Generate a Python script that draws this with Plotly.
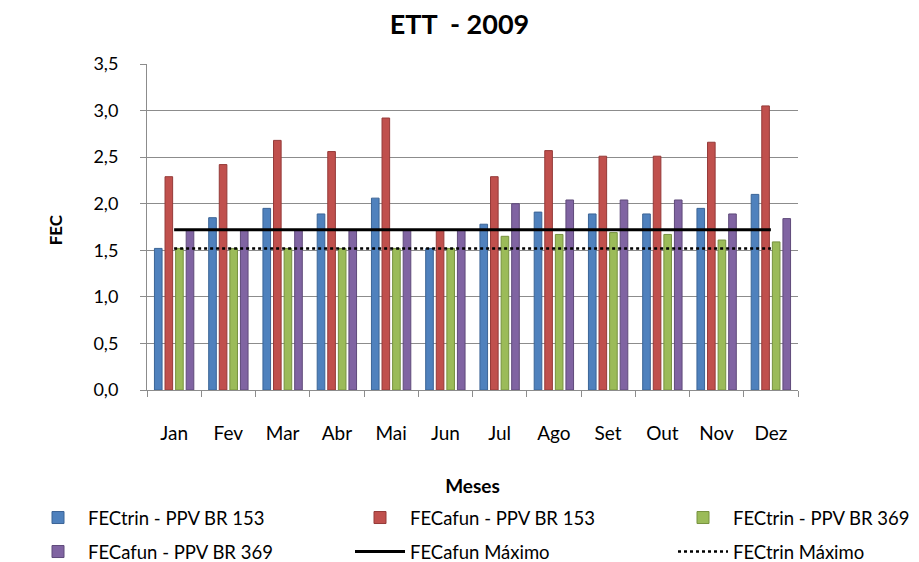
import plotly.graph_objects as go

meses = ["Jan", "Fev", "Mar", "Abr", "Mai", "Jun", "Jul", "Ago", "Set", "Out", "Nov", "Dez"]

fectrin_br153 = [1.52, 1.85, 1.95, 1.89, 2.06, 1.52, 1.78, 1.91, 1.89, 1.89, 1.95, 2.10]
fecafun_br153 = [2.29, 2.42, 2.68, 2.56, 2.92, 1.72, 2.29, 2.57, 2.51, 2.51, 2.66, 3.05]
fectrin_br369 = [1.52, 1.52, 1.52, 1.52, 1.52, 1.52, 1.65, 1.67, 1.69, 1.67, 1.61, 1.59]
fecafun_br369 = [1.72, 1.72, 1.72, 1.72, 1.72, 1.72, 2.00, 2.04, 2.04, 2.04, 1.89, 1.84]
fecafun_max = [1.72] * 12
fectrin_max = [1.52] * 12

FONT = "Lato"
W, H = 919, 562
ML, MR, MT, MB = 147, 121, 64, 172
PW = W - ML - MR

fig = go.Figure()
bar_series = [
    ("FECtrin - PPV BR 153", fectrin_br153, "#4F81BD", "#3B6496", "legend"),
    ("FECafun - PPV BR 153", fecafun_br153, "#C0504D", "#953A38", "legend2"),
    ("FECtrin - PPV BR 369", fectrin_br369, "#9BBB59", "#77923F", "legend3"),
    ("FECafun - PPV BR 369", fecafun_br369, "#8064A2", "#5F4A7A", "legend4"),
]
for name, vals, col, lcol, lg in bar_series:
    fig.add_trace(go.Bar(
        x=meses, y=vals, name=name,
        marker=dict(color=col, line=dict(color=lcol, width=1)),
        legend=lg,
    ))

fig.add_trace(go.Scatter(
    x=meses, y=fecafun_max, name="FECafun Máximo", mode="lines",
    line=dict(color="black", width=3), legend="legend5",
))
fig.add_trace(go.Scatter(
    x=meses, y=fectrin_max, name="FECtrin Máximo", mode="lines",
    line=dict(color="black", width=2.5, dash="dot"), legend="legend6",
))

col_x = [28, 350, 673]
row_y = [518, 552]
def leg(ix, iy):
    return dict(
        orientation="v", xref="container", yref="container",
        x=col_x[ix] / W, xanchor="left", y=1 - row_y[iy] / H, yanchor="middle",
        itemwidth=50, font=dict(family=FONT, size=18.5, color="black"),
        bgcolor="rgba(0,0,0,0)", borderwidth=0,
    )

fig.update_layout(
    width=W, height=H,
    paper_bgcolor="white", plot_bgcolor="white",
    separators=",.",
    font=dict(family=FONT, size=18, color="black"),
    margin=dict(l=ML, r=MR, t=MT, b=MB, autoexpand=False),
    barmode="group", bargap=0.22, bargroupgap=0.28,
    title=dict(text="<b>ETT  - 2009</b>", x=0.5, xref="container", xanchor="center",
               y=0.957, yref="container", yanchor="middle",
               font=dict(family=FONT, size=27, color="black")),
    showlegend=True,
    legend=leg(0, 0), legend2=leg(1, 0), legend3=leg(2, 0),
    legend4=leg(0, 1), legend5=leg(1, 1), legend6=leg(2, 1),
    annotations=[dict(
        text="<b>FEC</b>", xref="paper", yref="paper",
        x=(55 - ML) / PW, y=0.49, xanchor="center", yanchor="middle",
        textangle=-90, showarrow=False, font=dict(family=FONT, size=17, color="black"),
    )],
)

fig.update_yaxes(
    range=[0, 3.5], dtick=0.5, tickformat=".1f",
    showgrid=True, gridcolor="#8C8C8C", gridwidth=1,
    showline=True, linecolor="#8C8C8C", linewidth=1,
    ticks="outside", ticklen=6, tickcolor="#8C8C8C",
    zeroline=False, automargin=False, ticklabelstandoff=18,
    tickfont=dict(family=FONT, size=18),
)
fig.update_xaxes(
    showgrid=False, showline=True, linecolor="#8C8C8C", linewidth=1,
    ticks="outside", tickson="boundaries", ticklen=6, tickcolor="#8C8C8C",
    automargin=False, ticklabelstandoff=26,
    tickfont=dict(family=FONT, size=19),
    title=dict(text="<b>Meses</b>", font=dict(family=FONT, size=19), standoff=36),
)

fig.write_html("out.html", config={"displayModeBar": False},
               post_script="document.body.style.margin='0';")
